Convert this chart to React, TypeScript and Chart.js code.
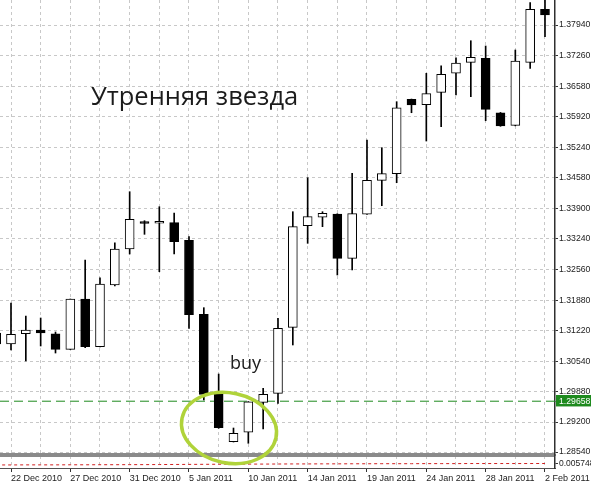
import React, { useEffect, useRef } from "react";
import { Chart, registerables } from "chart.js";

Chart.register(...registerables);

// ---- data ----
const dates = [
  "21 Dec 2010", "22 Dec 2010", "23 Dec 2010", "24 Dec 2010", "26 Dec 2010",
  "27 Dec 2010", "28 Dec 2010", "29 Dec 2010", "30 Dec 2010", "31 Dec 2010",
  "2 Jan 2011", "3 Jan 2011", "4 Jan 2011", "5 Jan 2011", "6 Jan 2011",
  "7 Jan 2011", "9 Jan 2011", "10 Jan 2011", "11 Jan 2011", "12 Jan 2011",
  "13 Jan 2011", "14 Jan 2011", "16 Jan 2011", "17 Jan 2011", "18 Jan 2011",
  "19 Jan 2011", "20 Jan 2011", "21 Jan 2011", "23 Jan 2011", "24 Jan 2011",
  "25 Jan 2011", "26 Jan 2011", "27 Jan 2011", "28 Jan 2011", "30 Jan 2011",
  "31 Jan 2011", "1 Feb 2011", "2 Feb 2011",
];

const opens = [
  1.31160, 1.30918, 1.31144, 1.31226, 1.31144, 1.30801, 1.31908, 1.30858, 1.32216, 1.33009,
  1.33575, 1.33575, 1.33588, 1.33200, 1.31571, 1.29832, 1.28767, 1.28974, 1.29634, 1.29832,
  1.31285, 1.33522, 1.33707, 1.33779, 1.32804, 1.33773, 1.34521, 1.34667, 1.36304, 1.36186,
  1.36458, 1.36877, 1.37119, 1.37207, 1.36009, 1.35732, 1.37119, 1.38286,
];
const highs = [
  1.31336, 1.31820, 1.31534, 1.31490, 1.31182, 1.31908, 1.32767, 1.32377, 1.33147, 1.34270,
  1.33632, 1.33940, 1.33801, 1.33280, 1.31717, 1.30257, 1.29068, 1.29650, 1.29942, 1.31483,
  1.33830, 1.34578, 1.33830, 1.33785, 1.34675, 1.35408, 1.35239, 1.36252, 1.36310, 1.36877,
  1.37044, 1.37220, 1.37594, 1.37478, 1.36015, 1.37390, 1.38431, 1.38520,
];
const lows = [
  1.30785, 1.30785, 1.30543, 1.30874, 1.30719, 1.30797, 1.30836, 1.30851, 1.32194, 1.32899,
  1.33332, 1.32509, 1.32899, 1.31263, 1.29685, 1.29062, 1.28760, 1.28732, 1.29046, 1.29612,
  1.30896, 1.33134, 1.33500, 1.32437, 1.32547, 1.33770, 1.33962, 1.34468, 1.36009, 1.35386,
  1.35701, 1.36399, 1.36362, 1.35833, 1.35710, 1.35720, 1.36987, 1.37683,
];
const closes = [
  1.30918, 1.31131, 1.31226, 1.31160, 1.30801, 1.31908, 1.30858, 1.32238, 1.33009, 1.33663,
  1.33570, 1.33580, 1.33170, 1.31563, 1.29810, 1.29075, 1.28952, 1.29647, 1.29810, 1.31263,
  1.33500, 1.33720, 1.33795, 1.32804, 1.33786, 1.34521, 1.34667, 1.36119, 1.36179, 1.36428,
  1.36855, 1.37103, 1.37229, 1.36084, 1.35717, 1.37148, 1.38286, 1.38160,
];

// lower indicator window
const indicator = [
  0.0039, 0.0039, 0.0040, 0.0040, 0.0040, 0.0041, 0.0041, 0.0042, 0.0042, 0.0043,
  0.0043, 0.0044, 0.0045, 0.0046, 0.0047, 0.0048, 0.0049, 0.0050, 0.0050, 0.0051,
  0.0052, 0.0052, 0.0053, 0.0053, 0.0054, 0.0054, 0.0055, 0.0055, 0.0055, 0.0056,
  0.0056, 0.0056, 0.0057, 0.0057, 0.0057, 0.0057, 0.0057, 0.005748,
];

const priceTickLabels = [
  "1.28540", "1.29200", "1.29880", "1.30540", "1.31220", "1.31880", "1.32560", "1.33240",
  "1.33900", "1.34580", "1.35240", "1.35920", "1.36580", "1.37260", "1.37940",
];
const supportLevel = 1.29658;

export default function App() {
  const ref = useRef<HTMLCanvasElement>(null);

  useEffect(() => {
    const canvas = ref.current;
    if (!canvas) return;
    const family = '"Liberation Sans", Arial, sans-serif';
    const X_MIN = 0.2584;
    const X_MAX = 37.675;
    const Y_MIN = 1.28474;
    const Y_MAX = 1.384905;
    const Y2_MAX = 0.0166;
    const idx = dates.map((_, i) => i);
    const gridIdx = idx.filter((i) => i % 2 === 1);
    const isLabeled = (v: number) => (v - 1) % 4 === 0;
    const priceTicks = priceTickLabels.map((s) => parseFloat(s));
    const lastInd = indicator[indicator.length - 1];

    const chart = new Chart(canvas, {
      type: "bar",
      data: {
        datasets: [
          {
            type: "bar",
            label: "body",
            data: idx.map((i) => ({ x: i, y: [opens[i], closes[i]] })) as any,
            backgroundColor: idx.map((i) => (closes[i] >= opens[i] ? "#ffffff" : "#000000")),
            borderColor: "#000000",
            borderWidth: 1,
            borderSkipped: false,
            barThickness: 9,
            minBarLength: 2,
            grouped: false,
            order: 1,
            yAxisID: "y",
          } as any,
          {
            type: "bar",
            label: "wick",
            data: idx.map((i) => ({ x: i, y: [lows[i], highs[i]] })) as any,
            backgroundColor: "#000000",
            borderWidth: 0,
            barThickness: 1,
            grouped: false,
            order: 2,
            yAxisID: "y",
          } as any,
          {
            type: "line",
            label: "level",
            data: [
              { x: X_MIN, y: supportLevel },
              { x: X_MAX, y: supportLevel },
            ],
            borderColor: "#1e8a1e",
            borderWidth: 1,
            borderDash: [9, 5],
            pointRadius: 0,
            order: 3,
            yAxisID: "y",
          } as any,
          {
            type: "line",
            label: "indicator",
            data: idx.map((i) => ({ x: i, y: indicator[i] })),
            borderColor: "#d02020",
            borderWidth: 1,
            borderDash: [3, 3],
            pointRadius: 0,
            order: 3,
            yAxisID: "y2",
          } as any,
        ],
      },
      options: {
        responsive: false,
        animation: false,
        devicePixelRatio: 1,
        layout: { padding: 0 },
        plugins: { legend: { display: false }, tooltip: { enabled: false } },
        scales: {
          x: {
            type: "linear",
            position: "bottom",
            min: X_MIN,
            max: X_MAX,
            offset: false,
            grid: {
              offset: false,
              color: "#c8c8c8",
              lineWidth: 1,
              tickLength: 4,
              tickColor: (c: any) => (c.tick && isLabeled(c.tick.value) ? "#333333" : "rgba(0,0,0,0)"),
            },
            border: { display: true, color: "#505050", width: 1, dash: [3, 3] },
            ticks: {
              align: "start",
              autoSkip: false,
              maxRotation: 0,
              minRotation: 0,
              padding: 1,
              color: "#222222",
              font: { family, size: 9 },
              callback: (v: any) => (isLabeled(Number(v)) ? dates[Number(v)] : ""),
            },
            afterBuildTicks: (s: any) => {
              s.ticks = gridIdx.map((v) => ({ value: v }));
            },
            afterFit: (s: any) => {
              s.height = 19;
              s.paddingLeft = 0;
              s.paddingRight = 0;
            },
          } as any,
          y: {
            type: "linear",
            position: "right",
            stack: "price",
            stackWeight: 455,
            min: Y_MIN,
            max: Y_MAX,
            grid: {
              color: (c: any) => (c.tick && c.tick.value === supportLevel ? "rgba(0,0,0,0)" : "#c8c8c8"),
              lineWidth: 1,
              tickLength: 3,
              tickColor: (c: any) => (c.tick && c.tick.value === supportLevel ? "#1e8a1e" : "#333333"),
            },
            border: { display: true, color: "#303030", width: 1.5, dash: [3, 3] },
            ticks: {
              autoSkip: false,
              padding: 1,
              font: { family, size: 8.7 },
              color: (c: any) => (c.tick && c.tick.value === supportLevel ? "#ffffff" : "#222222"),
              showLabelBackdrop: (c: any) => !!(c.tick && c.tick.value === supportLevel),
              backdropColor: "#1e8a1e",
              backdropPadding: { left: 3, right: 6, top: 1, bottom: 0 },
              callback: (v: any) => Number(v).toFixed(5),
            },
            afterBuildTicks: (s: any) => {
              s.ticks = [...priceTicks, supportLevel].sort((a, b) => a - b).map((v) => ({ value: v }));
            },
            afterFit: (s: any) => {
              s.width = 36;
              s.paddingTop = 0;
              s.paddingBottom = 0;
            },
          } as any,
          y2: {
            type: "linear",
            position: "right",
            stack: "price",
            stackWeight: 13,
            min: 0,
            max: Y2_MAX,
            grid: {
              color: (c: any) => (c.tick && c.tick.value === Y2_MAX ? "#8a8a8a" : "rgba(0,0,0,0)"),
              lineWidth: (c: any) => (c.tick && c.tick.value === Y2_MAX ? 4 : 1),
              tickLength: 3,
              tickColor: (c: any) => (c.tick && c.tick.value === Y2_MAX ? "rgba(0,0,0,0)" : "#333333"),
            },
            border: { display: true, color: "#303030", width: 1.5, dash: [] },
            ticks: {
              autoSkip: false,
              padding: 1,
              font: { family, size: 8.5 },
              color: "#222222",
              callback: (v: any) => (Number(v) === Y2_MAX ? "" : Number(v).toFixed(6)),
            },
            afterBuildTicks: (s: any) => {
              s.ticks = [{ value: lastInd }, { value: Y2_MAX }];
            },
            afterFit: (s: any) => {
              s.width = 36;
              s.paddingTop = 0;
              s.paddingBottom = 0;
            },
          } as any,
        },
      } as any,
    });
    return () => chart.destroy();
  }, []);

  return (
    <div
      style={{
        position: "fixed",
        left: 0,
        top: 0,
        width: 591,
        height: 487,
        background: "#ffffff",
        overflow: "hidden",
      }}
    >
      <canvas ref={ref} width={591} height={487} style={{ display: "block", width: 591, height: 487 }} />
      <div
        style={{
          position: "absolute",
          left: 91,
          top: 83,
          fontFamily: '"Open Sans", "Noto Sans", sans-serif',
          fontSize: 25.5,
          lineHeight: 1,
          color: "#1b1b1b",
          whiteSpace: "nowrap",
          pointerEvents: "none",
        }}
      >
        Утренняя звезда
      </div>
      <div
        style={{
          position: "absolute",
          left: 230,
          top: 353,
          fontFamily: '"Open Sans", "Noto Sans", sans-serif',
          fontSize: 18,
          lineHeight: 1,
          color: "#1b1b1b",
          whiteSpace: "nowrap",
          pointerEvents: "none",
        }}
      >
        buy
      </div>
      <svg
        width={591}
        height={487}
        style={{ position: "absolute", left: 0, top: 0, pointerEvents: "none" }}
      >
        <ellipse
          cx={229}
          cy={428}
          rx={48}
          ry={35}
          transform="rotate(12 229 428)"
          fill="none"
          stroke="#b0d33a"
          strokeWidth={3.5}
        />
      </svg>
    </div>
  );
}
